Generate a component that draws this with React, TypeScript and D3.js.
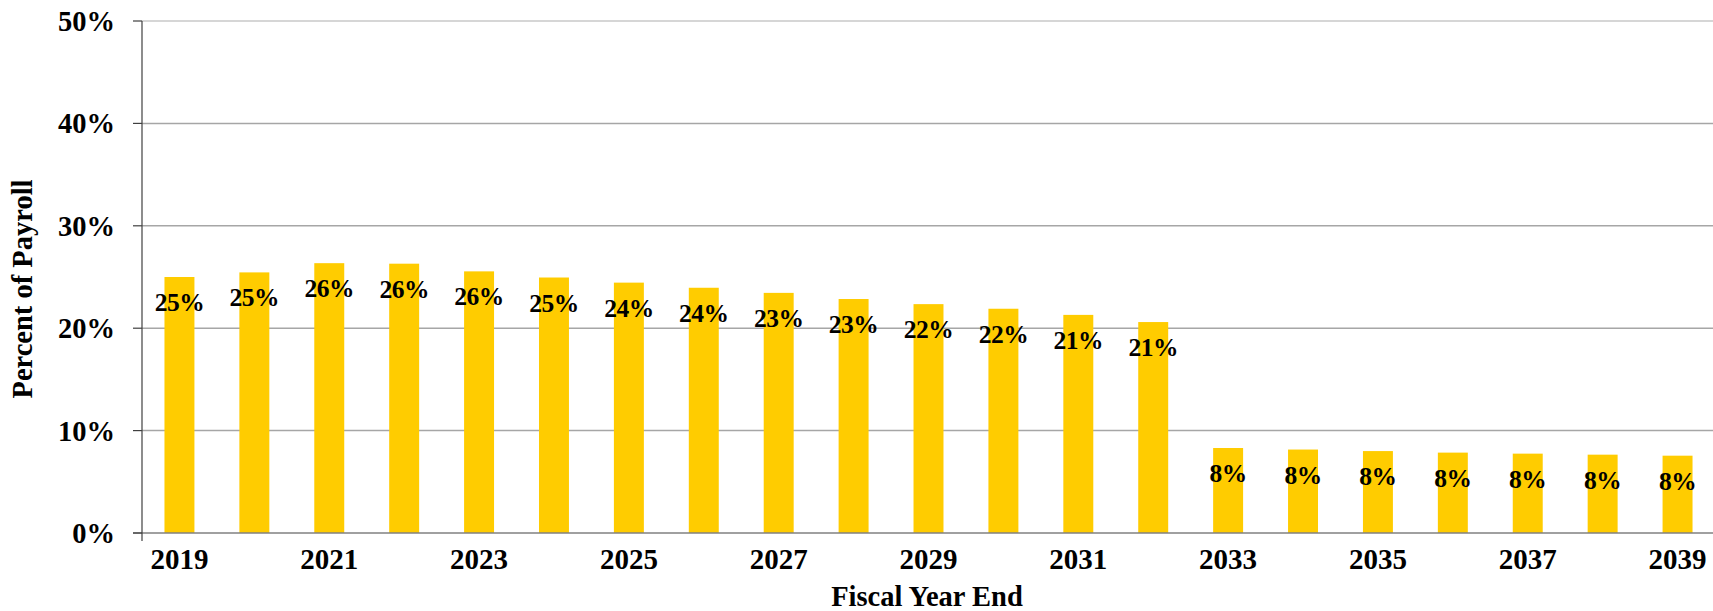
import React from "react";
import * as d3 from "d3";

const years = ["2019","2020","2021","2022","2023","2024","2025","2026","2027","2028","2029","2030","2031","2032","2033","2034","2035","2036","2037","2038","2039"];
const values = [25.0,25.45,26.35,26.3,25.55,24.95,24.45,23.95,23.45,22.85,22.35,21.9,21.3,20.6,8.3,8.15,8.0,7.85,7.75,7.65,7.55];
const dataLabels = ["25%","25%","26%","26%","26%","25%","24%","24%","23%","23%","22%","22%","21%","21%","8%","8%","8%","8%","8%","8%","8%"];
const xTickLabels = ["2019","2021","2023","2025","2027","2029","2031","2033","2035","2037","2039"];
const yTicks = [0, 10, 20, 30, 40, 50];
const yTickLabels = ["0%","10%","20%","30%","40%","50%"];
const yTitle = "Percent of Payroll";
const xTitle = "Fiscal Year End";

const W = 1713, H = 611;
const left = 142, right = 1715, top = 21, bottom = 533;
const font = "'Liberation Serif', 'Times New Roman', serif";

export default function App() {
  const x = d3.scaleBand<string>().domain(years).range([left, right]).paddingInner(0.6).paddingOuter(0.3);
  const y = d3.scaleLinear().domain([0, 50]).range([bottom, top]);
  return (
    <svg width={W} height={H} style={{ position: "absolute", left: 0, top: 0, display: "block", background: "#fff" }} fontFamily={font} fontWeight="bold">
      {yTicks.filter(t => t > 0).map(t => (
        <line key={"g" + t} x1={left} x2={W} y1={y(t)} y2={y(t)} stroke={t === 50 ? "#c8c8c8" : "#a6a6a6"} strokeWidth={1.5} />
      ))}
      {years.map((yr, i) => (
        <rect key={yr} x={x(yr)} y={y(values[i])} width={x.bandwidth()} height={bottom - y(values[i])} fill="#FFCC00" />
      ))}
      {years.map((yr, i) => (
        <text key={"l" + yr} x={(x(yr) as number) + x.bandwidth() / 2} y={y(values[i]) + 34} textAnchor="middle" fontSize={25.5} letterSpacing={-0.5} fill="#000">{dataLabels[i]}</text>
      ))}
      <line x1={133} x2={W} y1={bottom} y2={bottom} stroke="#808080" strokeWidth={1.5} />
      <line x1={left} x2={left} y1={top} y2={bottom + 8} stroke="#404040" strokeWidth={1.2} />
      {yTicks.map((t, i) => (
        <g key={"t" + t}>
          <line x1={133} x2={left} y1={y(t)} y2={y(t)} stroke="#404040" strokeWidth={1.2} />
          <text x={115} y={y(t) + 10} textAnchor="end" fontSize={28.5} fill="#000">{yTickLabels[i]}</text>
        </g>
      ))}
      {xTickLabels.map(lbl => (
        <text key={"x" + lbl} x={(x(lbl) as number) + x.bandwidth() / 2} y={568.5} textAnchor="middle" fontSize={29} fill="#000">{lbl}</text>
      ))}
      <text x={927} y={606} textAnchor="middle" fontSize={28.5} fill="#000">{xTitle}</text>
      <text transform={`translate(32, ${289}) rotate(-90)`} textAnchor="middle" fontSize={28.5} fill="#000">{yTitle}</text>
    </svg>
  );
}
